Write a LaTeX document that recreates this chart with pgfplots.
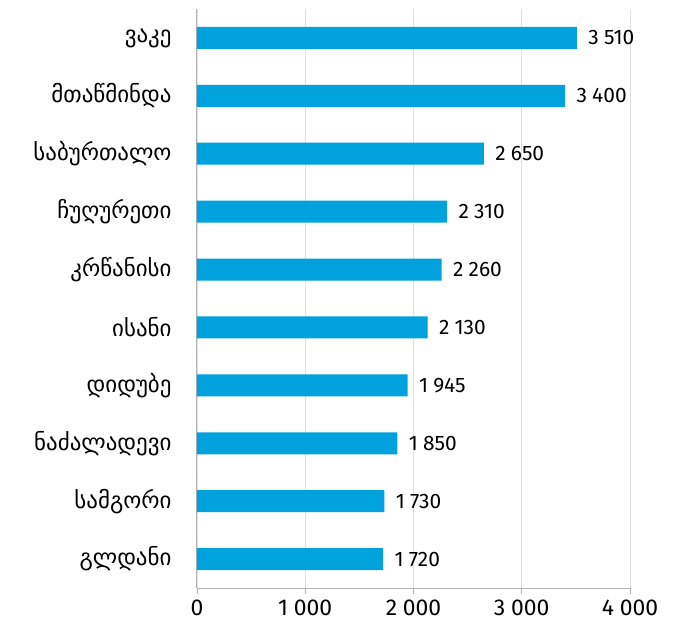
\documentclass[border=0pt]{standalone}
\usepackage{pgfplots}
\pgfplotsset{compat=1.18}
\usepackage{fontspec}
\setmainfont{Fira Sans}
\newfontfamily\geo[Script=Georgian]{DejaVu Sans}
\definecolor{barblue}{RGB}{0,162,222}
\begin{document}
\begin{tikzpicture}
\begin{axis}[
    scale only axis,
    width=433bp, height=579bp,
    xbar, bar width=22bp,
    xmin=0, xmax=4000,
    ymin=-0.5, ymax=9.5,
    y dir=reverse,
    ytick={0,...,9},
    yticklabels={ვაკე, მთაწმინდა, საბურთალო, ჩუღურეთი, კრწანისი, ისანი, დიდუბე, ნაძალადევი, სამგორი, გლდანი},
    yticklabel style={font=\geo\fontsize{23}{26}\selectfont, xshift=-16bp},
    xtick={0,1000,2000,3000,4000},
    xticklabel style={font=\fontsize{23}{26}\selectfont, yshift=-2bp},
    /pgf/number format/assume math mode=true,
    /pgf/number format/1000 sep={\hspace{0.25em}},
    axis x line*=bottom, axis y line*=left,
    axis line style={draw=black!30, line width=1pt},
    xmajorgrids, grid style={black!12, line width=0.8pt},
    tick align=outside,
    xtick style={draw=black!30, line width=0.8pt},
    major tick length=6bp,
    ytick style={draw=none},
    nodes near coords,
    nodes near coords style={font=\fontsize{21}{24}\selectfont, text=black, xshift=8bp},
]
\addplot[fill=barblue, draw=none] coordinates {
    (3510,0) (3400,1) (2650,2) (2310,3) (2260,4)
    (2130,5) (1945,6) (1850,7) (1730,8) (1720,9)
};
\end{axis}
\path (0,0) ++(-197bp,-36bp) rectangle ++(690bp,624bp);
\end{tikzpicture}
\end{document}
